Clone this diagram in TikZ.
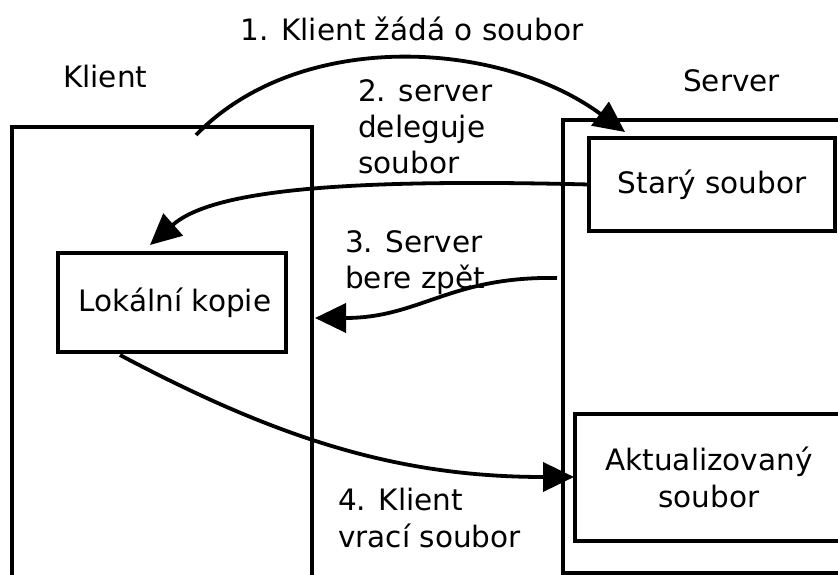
\documentclass[tikz,border=0pt]{standalone}
\usepackage{fontspec}
\setmainfont{DejaVu Sans}
\usetikzlibrary{arrows.meta}
\begin{document}
\begin{tikzpicture}[x=1pt,y=-1pt,
  box/.style={draw, line width=4.2pt, inner sep=0pt, outer sep=0pt, anchor=north west,
    font=\fontsize{29.5}{37}\selectfont, align=center},
  lbl/.style={font=\fontsize{29.5}{36}\selectfont, inner sep=0pt, anchor=base west},
  conn/.style={line width=3.8pt, -{Triangle[length=31pt,width=29pt]}}]
\useasboundingbox (0,0) rectangle (838,575);
\clip (0,0) rectangle (838,575);
% boxes
\node[box, minimum width=300pt, minimum height=480pt] (client) at (12,127) {};
\node[box, minimum width=310pt, minimum height=453pt] (server) at (563,120) {};
\node[box, minimum width=246pt, minimum height=93pt] (stary) at (589,138) {Starý soubor};
\node[box, minimum width=268pt, minimum height=127pt] (aktual) at (575,414) {Aktualizovaný\\soubor};
\node[box, minimum width=228pt, minimum height=99pt] (kopie) at (58,253) {\hspace{6pt}Lokální kopie};
% titles
\node[lbl] (tklient) at (63,88) {Klient};
\node[lbl] (tserver) at (683,92) {Server};
% step labels
\node[lbl, anchor=base] (l1) at (412,41) {1. Klient žádá o soubor};
\node[lbl] (l2a) at (358,102) {2. server};
\node[lbl] (l2b) at (358,138) {deleguje};
\node[lbl] (l2c) at (358,174) {soubor};
\node[lbl] (l3a) at (345,252) {3. Server};
\node[lbl] (l3b) at (345,288) {bere zpět};
\node[lbl] (l4a) at (338,510) {4. Klient};
\node[lbl] (l4b) at (338,547) {vrací soubor};
% connector end points
\coordinate (s1) at (196,135);
\coordinate (e1) at (625,132);
\coordinate (e2) at (150,245);
\coordinate (s3) at (557,278);
\coordinate (e3) at (315,318);
\coordinate (s4) at (120,355);
\coordinate (e4) at (574,477);
% connectors
\draw[conn] (s1) .. controls (300,28) and (500,40) .. (e1);
\draw[conn] (stary.west) .. controls (330,178) and (210,192) .. (e2);
\draw[conn] (s3) .. controls (450,276) and (420,318) .. (e3);
\draw[conn] (s4) .. controls (280,440) and (400,477) .. (e4);
\end{tikzpicture}
\end{document}
